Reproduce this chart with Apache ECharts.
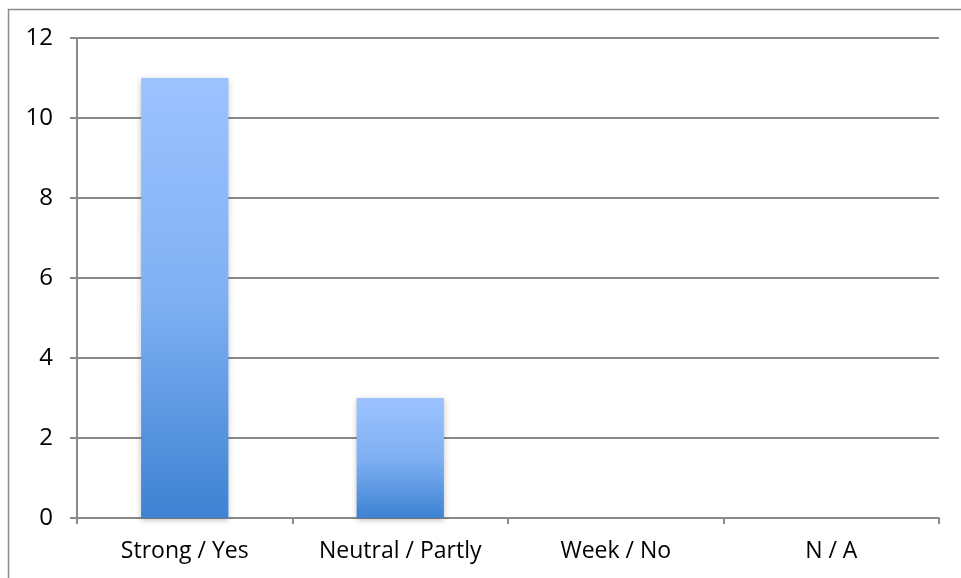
<!DOCTYPE html>
<html>
<head>
<meta charset="utf-8">
<style>
  html, body { margin: 0; padding: 0; background: #fff; }
  #chart { width: 961px; height: 578px; }
</style>
<script src="https://cdn.jsdelivr.net/npm/echarts@6/dist/echarts.min.js"></script>
</head>
<body>
<div id="chart"></div>
<script>
// Response counts per answer category
const categories = ['Strong / Yes', 'Neutral / Partly', 'Week / No', 'N / A'];
const counts = [11, 3, 0, 0];
const yTicks = { min: 0, max: 12, interval: 2 };

const chart = echarts.init(document.getElementById('chart'), null, { renderer: 'canvas' });

const font = '"Open Sans", "Liberation Sans", sans-serif';

chart.setOption({
  animation: false,
  backgroundColor: '#ffffff',
  graphic: [{
    type: 'rect',
    shape: { x: 8.5, y: 9.5, width: 1000, height: 1000 },
    style: { fill: 'none', stroke: '#8c8c8c', lineWidth: 1.5 },
    silent: true
  }],
  grid: { left: 77, right: 22, top: 38, bottom: 60, containLabel: false },
  xAxis: {
    type: 'category',
    data: categories,
    axisLine: { show: true, lineStyle: { color: '#8a8a8a', width: 2 } },
    axisTick: { show: true, length: 6, alignWithLabel: false, lineStyle: { color: '#8a8a8a', width: 2 } },
    axisLabel: { color: '#000', fontSize: 23, fontFamily: font, margin: 22 },
    splitLine: { show: false }
  },
  yAxis: {
    type: 'value',
    min: yTicks.min,
    max: yTicks.max,
    interval: yTicks.interval,
    axisLine: { show: true, lineStyle: { color: '#8a8a8a', width: 2 } },
    axisTick: { show: true, length: 7, inside: false, lineStyle: { color: '#8a8a8a', width: 2 } },
    axisLabel: { color: '#000', fontSize: 24, fontFamily: font, margin: 24 },
    splitLine: { show: true, lineStyle: { color: '#8a8a8a', width: 2 } }
  },
  series: [{
    type: 'bar',
    data: counts,
    barWidth: '40.5%',
    itemStyle: {
      color: new echarts.graphic.LinearGradient(0, 0, 0, 1, [
        { offset: 0, color: '#9dc3ff' },
        { offset: 0.5, color: '#7fb0f3' },
        { offset: 1, color: '#3d82d2' }
      ]),
      shadowColor: 'rgba(0,0,0,0.25)',
      shadowBlur: 6,
      shadowOffsetX: 0,
      shadowOffsetY: 2
    }
  }]
});
</script>
</body>
</html>
